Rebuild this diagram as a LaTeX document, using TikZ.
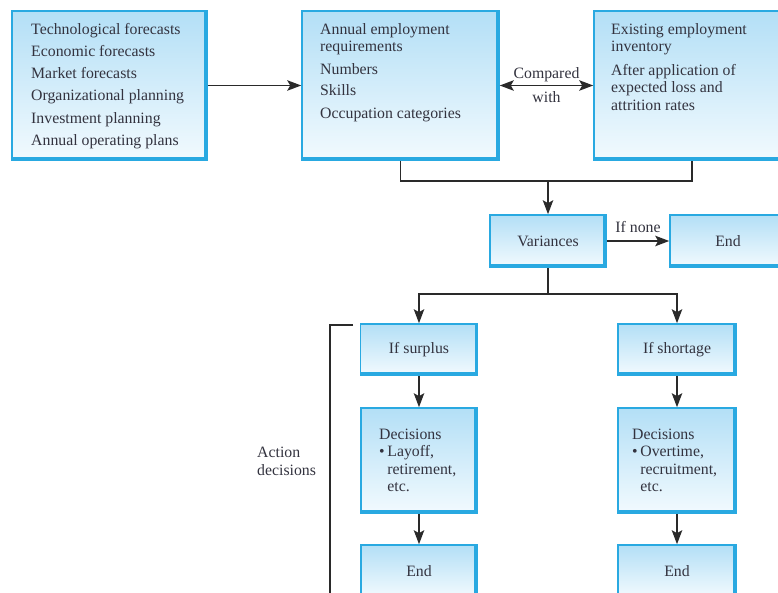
\documentclass[tikz,border=0pt]{standalone}
\usepackage{fontspec}
\setmainfont{Liberation Serif}
\usetikzlibrary{arrows.meta,calc}
\definecolor{boxblue}{HTML}{29A9E1}
\definecolor{boxtop}{HTML}{B3DFF6}
\definecolor{boxbot}{HTML}{F2FAFE}
\definecolor{ink}{HTML}{33333F}
\definecolor{wirec}{HTML}{2A2A2A}
\begin{document}
\begin{tikzpicture}[x=1pt,y=-1pt,
  box/.style={draw=boxblue, line width=1.6pt, top color=boxtop, bottom color=boxbot,
    inner sep=0pt, text=ink, font=\fontsize{15.8}{17.5}\selectfont,
    path picture={\draw[boxblue,line width=6pt]
      (path picture bounding box.south west) -- (path picture bounding box.south east)
      -- (path picture bounding box.north east);}},
  txt/.style={text=ink, font=\fontsize{15.8}{17.5}\selectfont, inner sep=0pt, align=left},
  wire/.style={draw=wirec, line width=1.4pt},
  tip/.tip={Stealth[length=14pt,width=10.5pt,inset=3pt]},
  arr/.style={wire, -tip},
  darr/.style={wire, tip-tip},
]
\useasboundingbox (0,0) rectangle (778,593);
\fill[white] (0,0) rectangle (778,593);
\clip (0,0) rectangle (778,593);

% top row
\node[box, minimum width=195, minimum height=149] (b1) at (109.5,85.5) {};
\node[txt, anchor=north west, font=\fontsize{15.8}{22.2}\selectfont] (b1t) at (31,23)
  {Technological forecasts\\Economic forecasts\\Market forecasts\\Organizational planning\\Investment planning\\Annual operating plans};

\node[box, minimum width=197, minimum height=149] (b2) at (400.5,85.5) {};
\node[txt, anchor=north west] (b2t) at (320,23)
  {Annual employment\\requirements\\[5pt]Numbers\\[4pt]Skills\\[5pt]Occupation categories};

\node[box, minimum width=196, minimum height=149] (b3) at (692,85.5) {};
\node[txt, anchor=north west] (b3t) at (611,23)
  {Existing employment\\inventory\\[6pt]After application of\\expected loss and\\attrition rates};

% variances row
\node[box, minimum width=116, minimum height=52] (var) at (548,241) {Variances};
\node[box, minimum width=116, minimum height=52] (end1) at (728,241) {End};

% branches
\node[box, minimum width=117, minimum height=51] (sur) at (419,349.5) {If surplus};
\node[box, minimum width=118, minimum height=51] (sho) at (677,349.5) {If shortage};

\node[box, minimum width=116, minimum height=105] (dec1) at (419,460.5) {};
\node[txt, anchor=north west] (dec1t) at (379,428.5)
  {Decisions\\\textbullet\,Layoff,\\\phantom{\textbullet\,}retirement,\\\phantom{\textbullet\,}etc.};
\node[box, minimum width=118, minimum height=105] (dec2) at (677,460.5) {};
\node[txt, anchor=north west] (dec2t) at (632,428.5)
  {Decisions\\\textbullet\,Overtime,\\\phantom{\textbullet\,}recruitment,\\\phantom{\textbullet\,}etc.};

\node[box, minimum width=116, minimum height=52] (end2) at (419,571) {End};
\node[box, minimum width=118, minimum height=52] (end3) at (677,571) {End};

% side label
\node[txt, anchor=west, font=\fontsize{15.8}{18}\selectfont] (act) at (257,461) {Action\\decisions};
\coordinate (br1) at (353,325);
\coordinate (br2) at (330,325);
\coordinate (br3) at (330,600);
\draw[wire] (br1) -- (br2) -- (br3);

% connectors
\draw[arr] (b1.east) -- (b2.west);
\draw[darr] (b2.east) -- node[txt, above=2.5pt] (cmp) {Compared} node[txt, below=5pt] (wth) {with} (b3.west);

\coordinate (j1) at (548,181);
\draw[wire] (b2.south) |- (j1) -| (b3.south);
\draw[arr] (j1) -- (var.north);

\draw[arr] (var.east) -- node[txt, above=8pt, pos=0.5] (ifn) {If none} (end1.west);

\coordinate (j2) at (548,294);
\draw[wire] (var.south) -- (j2);
\draw[arr] (j2) -| (sur.north);
\draw[arr] (j2) -| (sho.north);

\draw[arr] (sur.south) -- (dec1.north);
\draw[arr] (sho.south) -- (dec2.north);
\draw[arr] (dec1.south) -- (end2.north);
\draw[arr] (dec2.south) -- (end3.north);
\end{tikzpicture}
\end{document}
